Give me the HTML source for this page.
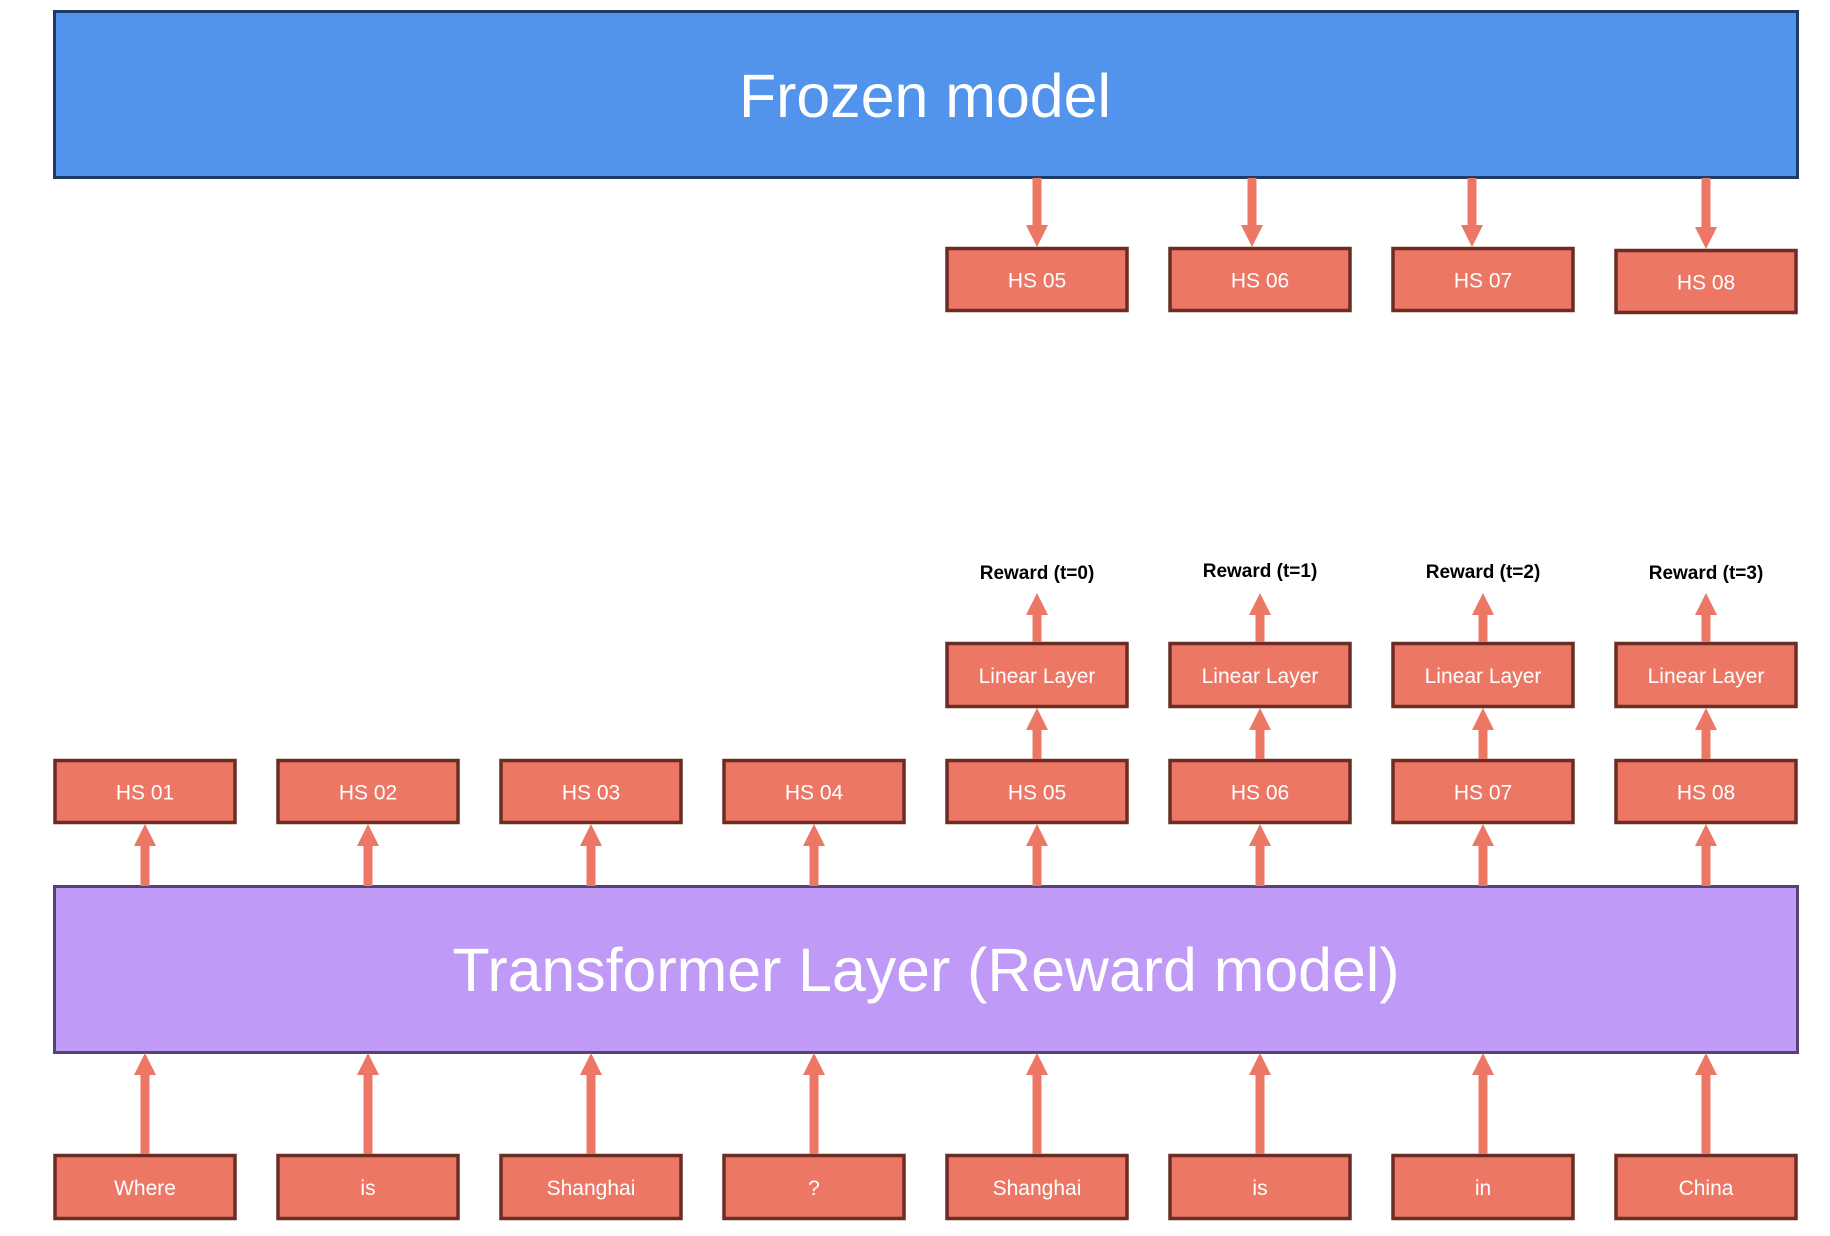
<!DOCTYPE html>
<html><head><meta charset="utf-8"><style>
html,body{margin:0;padding:0;background:#fff;}
svg{display:block;}
text{font-family:"Liberation Sans",sans-serif;}
</style></head><body>
<svg width="1830" height="1236" viewBox="0 0 1830 1236" xmlns="http://www.w3.org/2000/svg">
<defs>
<g id="up"><rect x="-4.5" y="20" width="9" height="1" fill="#EC7765"/></g>
</defs>
<!-- Frozen model -->
<rect x="54.5" y="11.5" width="1743" height="166" fill="#5293EC" stroke="#1E3A66" stroke-width="3"/>
<text x="925" y="117" font-size="61" fill="#fff" text-anchor="middle" textLength="372" lengthAdjust="spacingAndGlyphs">Frozen model</text>
<!-- Transformer -->
<rect x="54.5" y="886.5" width="1743" height="166" fill="#BF9AF6" stroke="#554473" stroke-width="3"/>
<text x="926" y="991" font-size="61" fill="#fff" text-anchor="middle" textLength="947" lengthAdjust="spacingAndGlyphs">Transformer Layer (Reward model)</text>
<g id="all"></g>
</svg>
<script>
const svg=document.querySelector('svg');
const NS="http://www.w3.org/2000/svg";
function el(t,a,txt){const e=document.createElementNS(NS,t);for(const k in a)e.setAttribute(k,a[k]);if(txt!==undefined)e.textContent=txt;svg.appendChild(e);return e;}
function box(cx,y1,y2,label){
  el('rect',{x:cx-90,y:y1+1.5,width:180,height:y2-y1-3,fill:'#EC7765',stroke:'#6B2D24','stroke-width':3.5});
  el('text',{x:cx,y:(y1+y2)/2+8,'font-size':21,fill:'#fff','text-anchor':'middle'},label);
}
function arrowUp(cx,yTail,yTip){
  el('rect',{x:cx-4.5,y:yTip+20,width:9,height:yTail-yTip-20,fill:'#EC7765'});
  el('polygon',{points:`${cx},${yTip} ${cx-11},${yTip+22} ${cx+11},${yTip+22}`,fill:'#EC7765'});
}
function arrowDown(cx,yTail,yTip){
  el('rect',{x:cx-4.5,y:yTail,width:9,height:yTip-yTail-20,fill:'#EC7765'});
  el('polygon',{points:`${cx},${yTip} ${cx-11},${yTip-22} ${cx+11},${yTip-22}`,fill:'#EC7765'});
}
const cx=[145,368,591,814,1037,1260,1483,1706];
const words=['Where','is','Shanghai','?','Shanghai','is','in','China'];
for(let i=0;i<8;i++){
  box(cx[i],1154,1220,words[i]);
  arrowUp(cx[i],1154,1053);
  box(cx[i],759,824,'HS 0'+(i+1));
  arrowUp(cx[i],886,824);
}
const topA=[1037,1252,1472,1706];
const topB=[1037,1260,1483,1706];
for(let j=0;j<4;j++){
  const i=j+4;
  box(cx[i],642,708,'Linear Layer');
  arrowUp(cx[i],759,708);
  arrowUp(cx[i],642,593);
  el('text',{x:cx[i],y:[579,577,578,579][j],'font-size':19,'font-weight':'bold',fill:'#000','text-anchor':'middle'},'Reward (t='+j+')');
  const y1=j==3?249:247, y2=j==3?314:312;
  box(topB[j],y1,y2,'HS 0'+(i+1));
  arrowDown(topA[j],178,y1);
}
</script>
</body></html>
